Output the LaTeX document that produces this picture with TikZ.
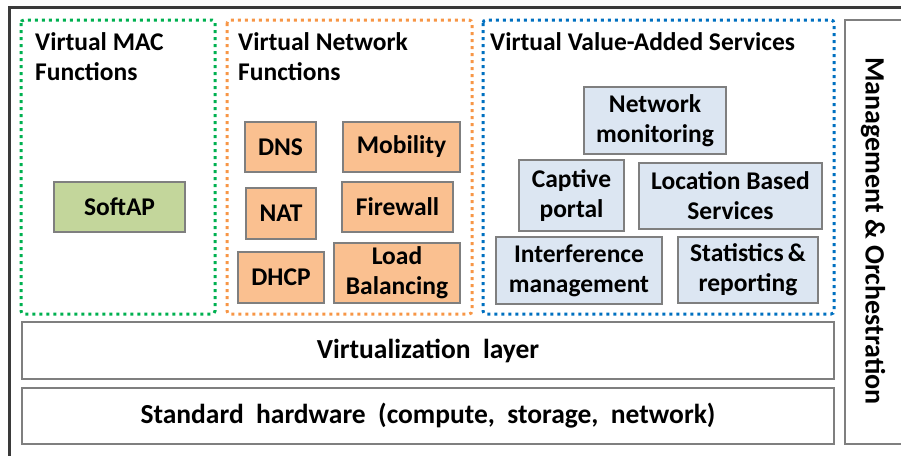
\documentclass[tikz,border=0pt]{standalone}
\usepackage{fontspec}
\setmainfont{Carlito}
\usetikzlibrary{positioning}

\definecolor{macgreen}{HTML}{00B050}
\definecolor{nforange}{HTML}{F79646}
\definecolor{vasblue}{HTML}{0070C0}
\definecolor{macfill}{HTML}{C3D69B}
\definecolor{nffill}{HTML}{FAC090}
\definecolor{vasfill}{HTML}{DCE6F2}
\definecolor{boxgray}{HTML}{7F7F7F}
\definecolor{framegray}{HTML}{3A3A3A}

\newcommand{\diagfont}{\fontsize{25.5}{30}\selectfont\bfseries}
\newcommand{\layerfont}{\fontsize{27.5}{32}\selectfont\bfseries}
\newcommand{\mgmtfont}{\fontsize{28}{32}\selectfont\bfseries}

\tikzset{
  funcbox/.style={draw=boxgray, line width=1.6pt, align=center, inner sep=0pt, font=\diagfont},
  macbox/.style={funcbox, fill=macfill},
  nfbox/.style={funcbox, fill=nffill},
  vasbox/.style={funcbox, fill=vasfill},
  layerbox/.style={draw=boxgray, line width=1.6pt, inner sep=0pt, font=\layerfont,
    minimum width=812pt},
  groupframe/.style={line width=3pt, dash pattern=on 3pt off 4pt, rounded corners=3pt},
  grouptitle/.style={anchor=north west, inner sep=0pt, align=left, font=\diagfont}
}

\begin{document}
\begin{tikzpicture}[x=1pt,y=-1pt]
    \useasboundingbox (0,0) rectangle (901,455);
    \clip (0,0) rectangle (901,455);

    % Outer frame
    \draw[framegray, line width=3pt] (9.5,7.5) rectangle (920,470);

    % Group frames
    \draw[groupframe, macgreen] (21,20) rectangle (215,314);
    \draw[groupframe, nforange] (227,20) rectangle (472,314);
    \draw[groupframe, vasblue]  (483,20) rectangle (834,314);

    \node[grouptitle] (mactitle) at (35,32)  {Virtual MAC\\Functions};
    \node[grouptitle] (nftitle)  at (238,32) {Virtual Network\\Functions};
    \node[grouptitle] (vastitle) at (490,32) {Virtual Value-Added Services};

    % Virtual MAC functions
    \node[macbox, minimum width=131pt, minimum height=50pt] (softap) at (119.5,207) {SoftAP};

    % Virtual network functions
    \node[nfbox, minimum width=71pt,  minimum height=50pt] (dns)      at (280.5,147) {DNS};
    \node[nfbox, minimum width=117pt, minimum height=50pt] (mobility) at (401.5,147) {Mobility};
    \node[nfbox, minimum width=70pt,  minimum height=51pt] (nat)      at (281,213.5) {NAT};
    \node[nfbox, minimum width=111pt, minimum height=50pt] (firewall) at (397.5,207) {Firewall};
    \node[nfbox, minimum width=86pt,  minimum height=51pt] (dhcp)     at (281,277.5) {DHCP};
    \node[nfbox, minimum width=126pt, minimum height=60pt] (loadbal)  at (397,273)   {Load\\Balancing};

    % Virtual value-added services
    \node[vasbox, minimum width=142pt, minimum height=67pt] (netmon)   at (655,120.5) {Network\\monitoring};
    \node[vasbox, minimum width=105pt, minimum height=71pt] (captive)  at (571.5,195.5) {Captive\\portal};
    \node[vasbox, minimum width=183pt, minimum height=66pt] (location) at (730.5,196) {Location Based\\Services};
    \node[vasbox, minimum width=166pt, minimum height=67pt] (interf)   at (579,270.5) {Interference\\management};
    \node[vasbox, minimum width=140pt, minimum height=66pt] (stats)    at (748,270)   {Statistics\,\&\\reporting};

    % Layers
    \node[layerbox, minimum height=57pt] (virtlayer) at (428,350.5) {Virtualization~~layer};
    \node[layerbox, minimum height=56pt] (hwlayer)   at (428,416)   {Standard~~hardware~~(compute,~~storage,~~network)};

    % Management & orchestration
    \draw[boxgray, line width=1.6pt] (845,20) rectangle (920,444);
    \node[font=\mgmtfont, rotate=-90, inner sep=0pt] (mgmt) at (873,231) {Management \& Orchestration};
\end{tikzpicture}
\end{document}
